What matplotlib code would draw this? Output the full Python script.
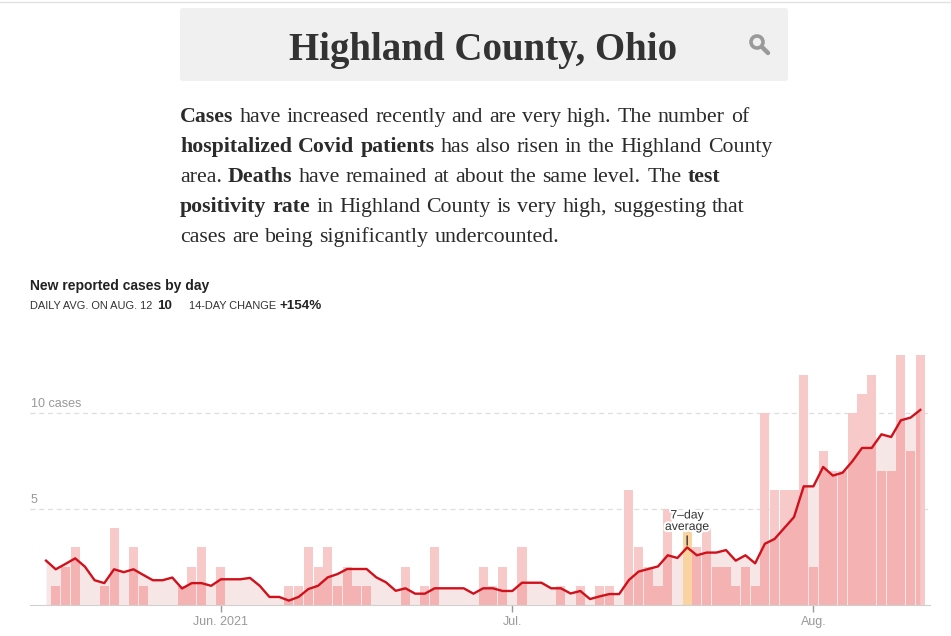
import numpy as np
import pandas as pd
import matplotlib
matplotlib.use('Agg')
import matplotlib.pyplot as plt
import matplotlib.patheffects as pe
from matplotlib.lines import Line2D
from matplotlib.patches import FancyBboxPatch, Circle
from matplotlib.transforms import IdentityTransform, offset_copy

# daily new cases, May 14 - Aug 12 2021
dates = pd.date_range('2021-05-14', '2021-08-12', freq='D')
cases = [0, 1, 2, 3, 0, 0, 1, 4, 0, 3, 1, 0, 0, 0, 1, 2, 3, 0, 2, 0,
         0, 0, 0, 0, 0, 1, 1, 3, 2, 3, 1, 2, 1, 1, 0, 0, 0, 2, 0, 1,
         3, 0, 0, 0, 0, 2, 1, 2, 0, 3, 0, 0, 0, 1, 0, 1, 0, 1, 1, 0,
         6, 3, 2, 1, 5, 0, 4, 3, 4, 2, 2, 1, 2, 1, 10, 6, 6, 6, 12, 2,
         8, 7, 7, 10, 11, 12, 7, 7, 13, 8, 13]
# 7-day average as drawn
avg7 = [2.31, 1.86, 2.14, 2.43, 2.0, 1.29, 1.14, 1.86, 1.71, 1.86,
        1.57, 1.29, 1.29, 1.43, 0.86, 1.14, 1.14, 1.0, 1.34, 1.34,
        1.34, 1.41, 1.0, 0.42, 0.42, 0.23, 0.42, 0.83, 1.0, 1.44,
        1.61, 1.875, 1.875, 1.875, 1.44, 1.18, 0.74, 0.87, 0.59, 0.59,
        0.87, 0.87, 0.87, 0.87, 0.59, 0.87, 0.87, 0.73, 0.73, 1.16,
        1.16, 1.16, 0.87, 0.87, 0.6, 0.73, 0.31, 0.45, 0.57, 0.57,
        1.30, 1.74, 1.875, 2.01, 2.59, 2.45, 3.0, 2.59, 2.73, 2.73,
        2.86, 2.31, 2.59, 2.17, 3.19, 3.44, 4.01, 4.58, 6.18, 6.18,
        7.19, 6.74, 6.89, 7.48, 8.18, 8.18, 8.89, 8.75, 9.62, 9.76, 10.16]
highlight_day = pd.Timestamp('2021-07-19')
tick_dates = pd.to_datetime(['2021-06-01', '2021-07-01', '2021-08-01'])
tick_labels = ['Jun. 2021', 'Jul.', 'Aug.']
y_ticks = [5, 10]
y_labels = ['5', '10 cases']

W, H = 951, 636
fig = plt.figure(figsize=(W / 100, H / 100), dpi=100)
ident = IdentityTransform()
renderer = fig.canvas.get_renderer()

fig.add_artist(Line2D([0, 1], [1 - 2 / H] * 2, transform=fig.transFigure,
                      color='#e2e2e2', lw=1))

# title box
fig.add_artist(FancyBboxPatch((180, H - 81), 608, 73, transform=ident,
                              boxstyle='round,pad=0,rounding_size=3',
                              fc='#f0f0f0', ec='none'))
fig.text(483, H - 60, 'Highland County, Ohio', transform=ident, ha='center',
         va='baseline', fontsize=28, fontweight='bold',
         family='Liberation Serif', color='#333333')
fig.add_artist(Circle((757, H - 42), 6, transform=ident, fc='none',
                      ec='#9a9a9a', lw=2.6))
fig.add_artist(Line2D([762, 768], [H - 47, H - 53], transform=ident,
                      color='#9a9a9a', lw=3.2, solid_capstyle='round'))


def rich(x, y, parts, size, family, color='#333333'):
    drawn = []
    spaces = {}
    for s, bold in parts:
        wt = 'bold' if bold else 'normal'
        if wt not in spaces:
            a = fig.text(0, 0, 'x x', fontsize=size, fontweight=wt, family=family)
            b = fig.text(0, 0, 'xx', fontsize=size, fontweight=wt, family=family)
            spaces[wt] = (a.get_window_extent(renderer).width
                          - b.get_window_extent(renderer).width)
            a.remove()
            b.remove()
        for k, word in enumerate(s.split(' ')):
            if k > 0:
                x += spaces[wt]
            if word:
                t = fig.text(x, y, word, transform=ident, fontsize=size,
                             fontweight=wt, family=family, color=color,
                             va='baseline')
                drawn.append(t)
                x += t.get_window_extent(renderer).width + 0.5
    return x, drawn


para = [
    [('Cases', True), (' have increased recently and are very high. The number of', False)],
    [('hospitalized Covid patients', True), (' has also risen in the Highland County', False)],
    [('area. ', False), ('Deaths', True), (' have remained at about the same level. The ', False), ('test', True)],
    [('positivity rate', True), (' in Highland County is very high, suggesting that', False)],
    [('cases are being significantly undercounted.', False)],
]
pfont = 'Liberation Serif'
end, tmp = rich(180, 0, para[0], 14, pfont)
for t in tmp:
    t.remove()
psize = 14 * (752 - 180) / (end - 180)
for n, line in enumerate(para):
    rich(180, H - (122 + 30 * n), line, psize, pfont, '#2b2b2b')

fig.text(30, H - 290, 'New reported cases by day', transform=ident,
         fontsize=10, fontweight='bold', family='Liberation Sans', color='#222222')
fig.text(30, H - 309, 'DAILY AVG. ON AUG. 12', transform=ident, fontsize=7.9,
         family='Liberation Sans', color='#333333')
fig.text(157, H - 309, '10', transform=ident, fontsize=9.6, fontweight='bold',
         family='Liberation Sans', color='#222222')
fig.text(189, H - 309, '14-DAY CHANGE', transform=ident, fontsize=7.9,
         family='Liberation Sans', color='#333333')
fig.text(279, H - 309, '+154%', transform=ident, fontsize=9.6, fontweight='bold',
         family='Liberation Sans', color='#222222')

# chart
ax = fig.add_axes([30 / W, (H - 605) / H, 900 / W, (605 - 345.8) / H])
one = pd.Timedelta(days=1)
ax.set_xlim(dates[0] - 1.65 * one, dates[0] + 91.0 * one)
ax.set_ylim(0, 13.5)

area = ax.fill_between(dates, avg7, 0, color='#f7e6e6', lw=0, zorder=1)
ax.bar(dates, cases, width=0.93, color='#f8c9c9', lw=0, zorder=2)
dark = ax.bar(dates, cases, width=0.93, color='#f4b2b2', lw=0, zorder=3)
clip = area.get_paths()[0]
for b in dark:
    b.set_clip_path(clip, ax.transData)
hi = list(dates).index(highlight_day)
ax.bar([highlight_day], [cases[hi]], width=0.93, color='#f9d4a0', lw=0, zorder=3.5)
ax.plot(dates, avg7, color='#d0111b', lw=1.7, zorder=4, solid_joinstyle='round')

ax.annotate('', xy=(highlight_day, avg7[hi] + 0.12),
            xytext=(highlight_day, avg7[hi] + 0.6),
            arrowprops=dict(arrowstyle='-', color='#222222', lw=0.9,
                            shrinkA=0, shrinkB=0), zorder=5)
ax.text(highlight_day, avg7[hi] + 0.75, '7\u2013day\naverage', ha='center',
        va='bottom', fontsize=8.8, family='Liberation Sans', color='#333333',
        linespacing=0.95, zorder=5,
        path_effects=[pe.withStroke(linewidth=3, foreground='white')])

ax.set_yticks(y_ticks)
ax.set_yticklabels([])
ax.tick_params(axis='y', length=0)
ax.yaxis.grid(True, color='#dedede', lw=0.9, linestyle=(0, (4, 3)))
ax.set_axisbelow(True)
lab_tr = offset_copy(ax.transData, fig=fig, x=1, y=6, units='dots')
for v, s in zip(y_ticks, y_labels):
    ax.text(ax.get_xlim()[0], v, s, transform=lab_tr, fontsize=9,
            family='Liberation Sans', color='#999999', va='baseline')

ax.set_xticks(tick_dates)
ax.set_xticklabels(tick_labels, fontsize=9, family='Liberation Sans',
                   color='#999999')
ax.tick_params(axis='x', length=5, width=1, color='#999999', pad=3)
for s in ['top', 'left', 'right']:
    ax.spines[s].set_visible(False)
ax.spines['bottom'].set_color('#d0d0d0')
ax.spines['bottom'].set_zorder(6)

fig.savefig('out.png', dpi=100)
